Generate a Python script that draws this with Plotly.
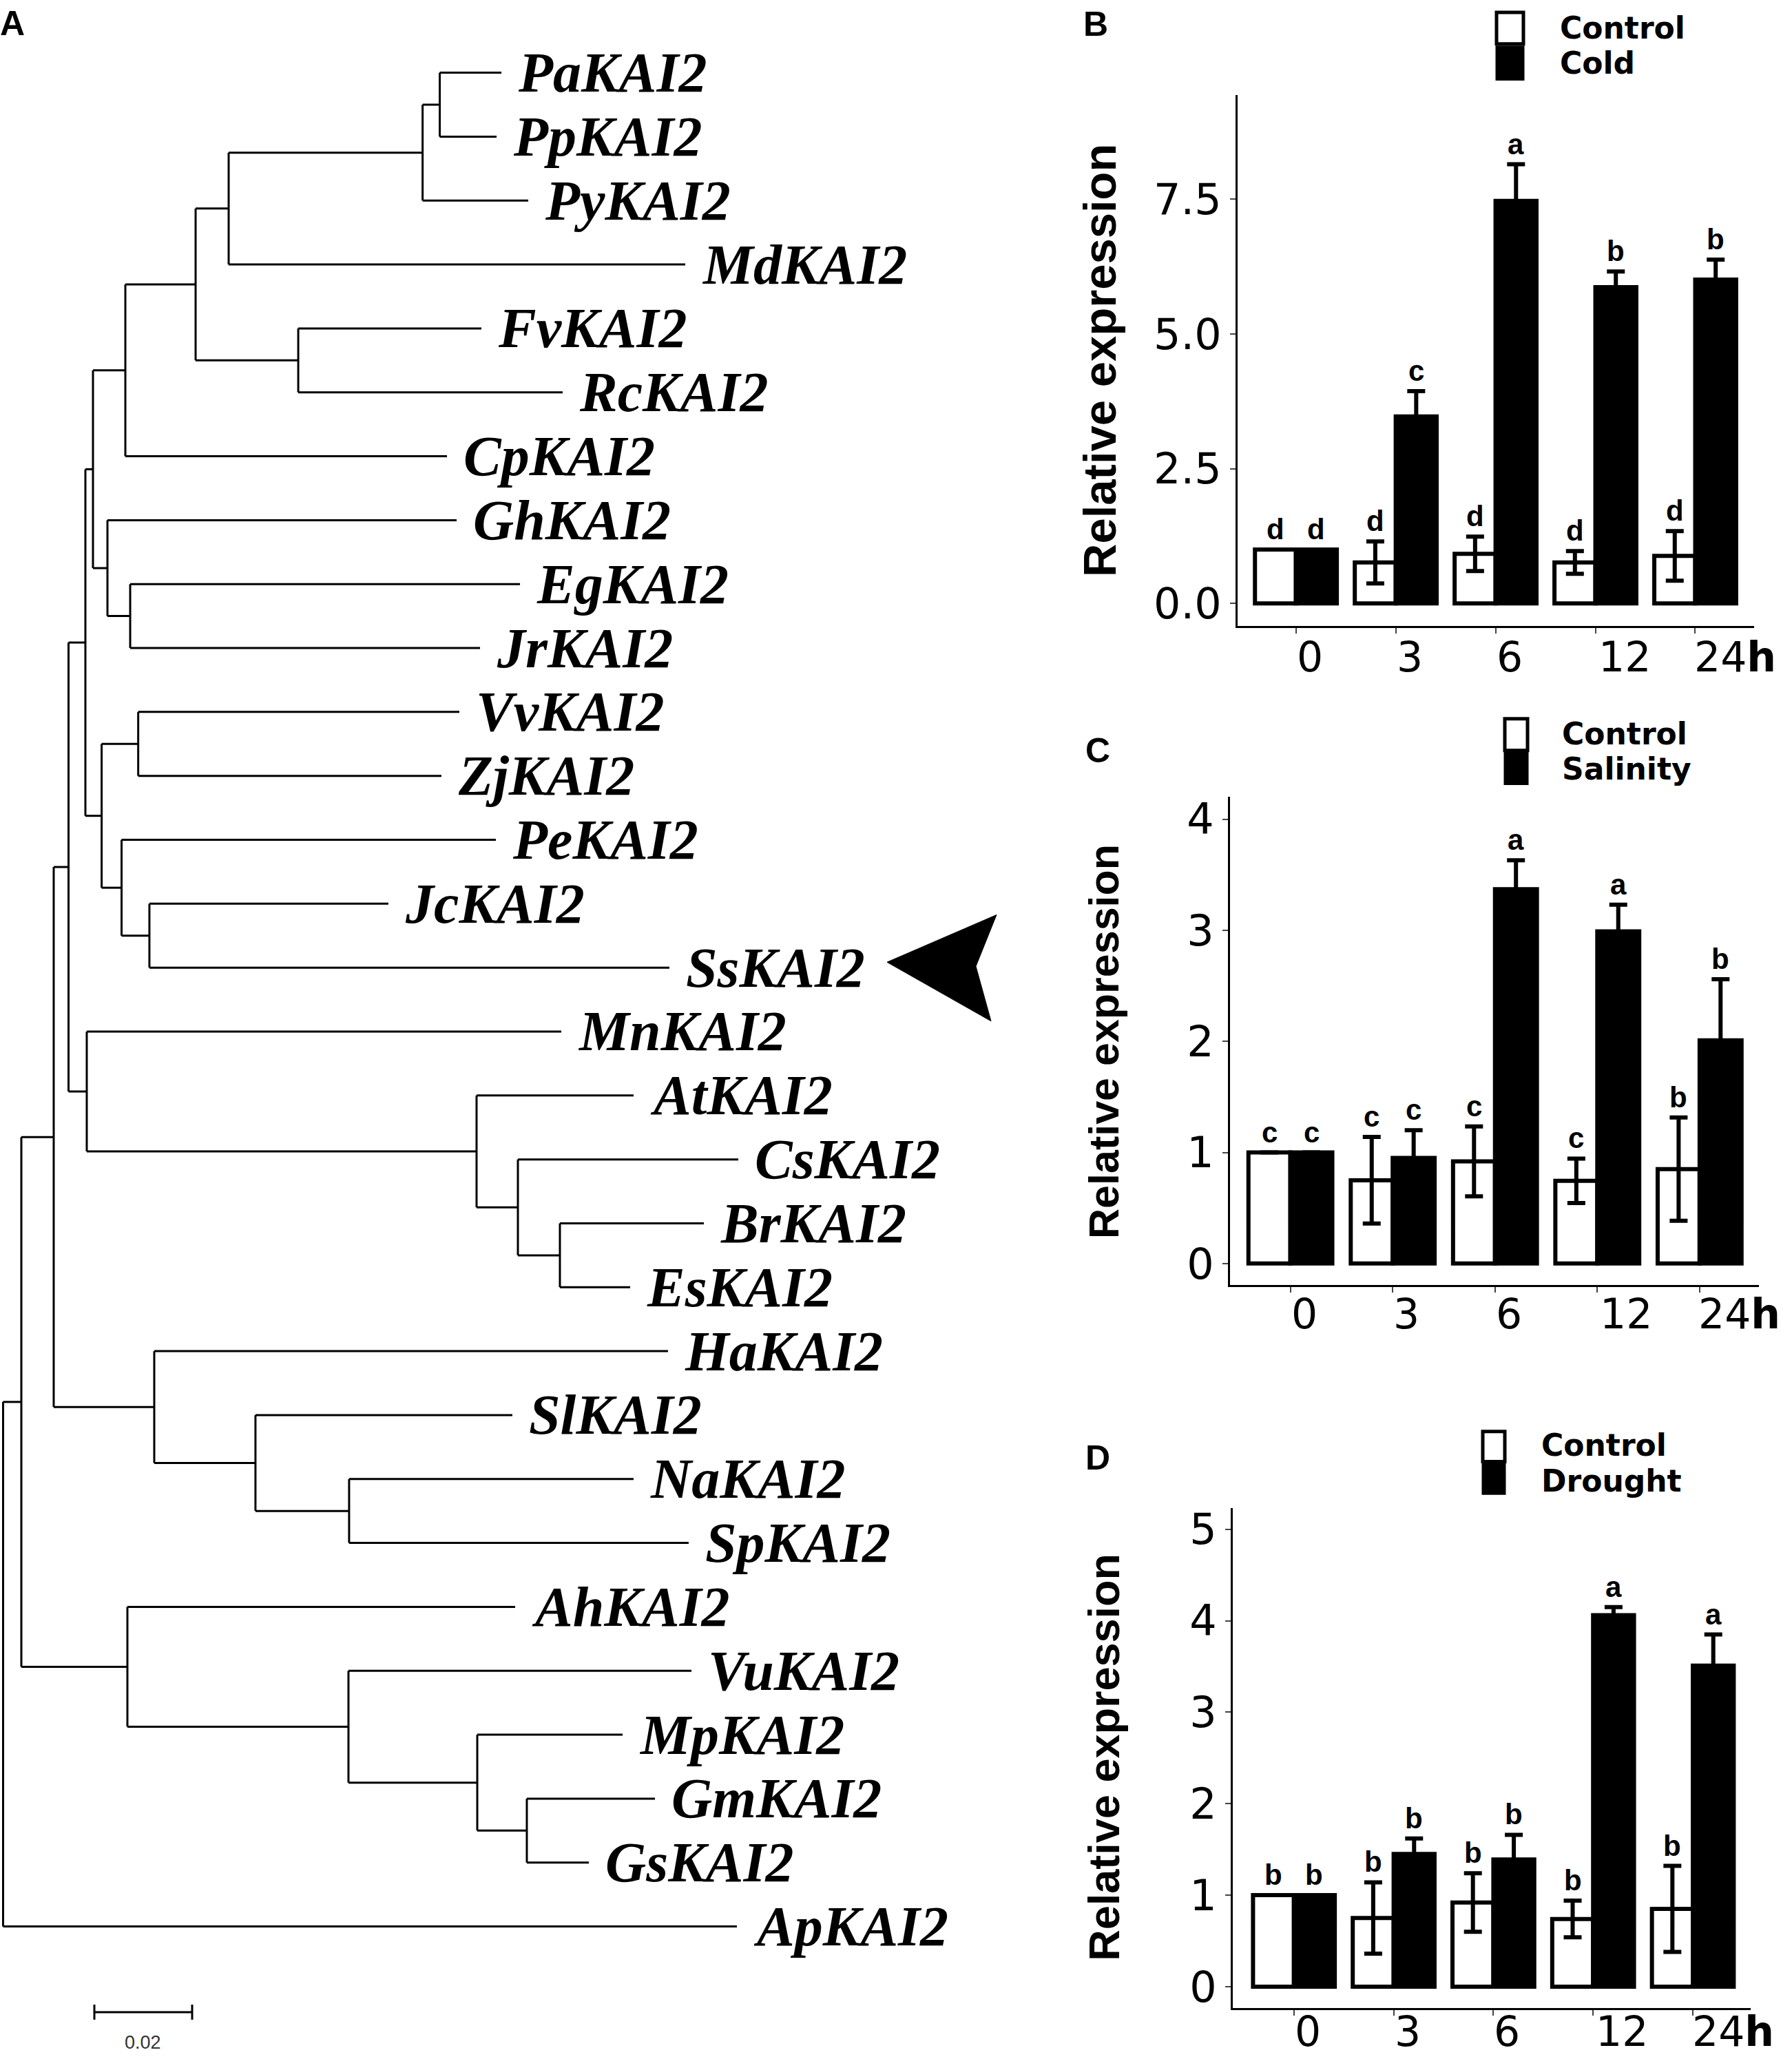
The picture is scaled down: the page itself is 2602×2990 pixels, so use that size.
import plotly.graph_objects as go
from collections import defaultdict

W, H = 2602, 2990

# ================= DATA: phylogenetic tree (panel A) =================
leaf_order = ["PaKAI2", "PpKAI2", "PyKAI2", "MdKAI2", "FvKAI2", "RcKAI2", "CpKAI2", "GhKAI2",
              "EgKAI2", "JrKAI2", "VvKAI2", "ZjKAI2", "PeKAI2", "JcKAI2", "SsKAI2", "MnKAI2",
              "AtKAI2", "CsKAI2", "BrKAI2", "EsKAI2", "HaKAI2", "SlKAI2", "NaKAI2", "SpKAI2",
              "AhKAI2", "VuKAI2", "MpKAI2", "GmKAI2", "GsKAI2", "ApKAI2"]

node_names = ["n1", "ApKAI2", "n2", "n3", "n4", "n5", "n6", "n7", "n8", "n9",
              "n10", "n11", "n12", "CpKAI2", "n13", "n14", "n15", "MdKAI2", "n16", "PyKAI2",
              "PaKAI2", "PpKAI2", "FvKAI2", "RcKAI2", "GhKAI2", "n17", "EgKAI2", "JrKAI2",
              "n18", "n19", "VvKAI2", "ZjKAI2", "PeKAI2", "n20", "JcKAI2", "SsKAI2",
              "MnKAI2", "n21", "AtKAI2", "n22", "CsKAI2", "n23", "BrKAI2", "EsKAI2",
              "HaKAI2", "n24", "SlKAI2", "n25", "NaKAI2", "SpKAI2",
              "AhKAI2", "n26", "VuKAI2", "n27", "MpKAI2", "n28", "GmKAI2", "GsKAI2"]
node_parents = ["root", "root", "n1", "n1", "n2", "n2", "n4", "n4", "n6", "n6",
                "n8", "n8", "n10", "n10", "n12", "n12", "n13", "n13", "n15", "n15",
                "n16", "n16", "n14", "n14", "n11", "n11", "n17", "n17",
                "n9", "n9", "n18", "n18", "n19", "n19", "n20", "n20",
                "n7", "n7", "n21", "n21", "n22", "n22", "n23", "n23",
                "n5", "n5", "n24", "n24", "n25", "n25",
                "n3", "n3", "n26", "n26", "n27", "n27", "n28", "n28"]
branch_lengths = [0.00373, 0.15007, 0.00662, 0.02169, 0.00303, 0.02056, 0.00345, 0.00373, 0.00155, 0.00332,
                  0.00662, 0.00296, 0.01437, 0.06577, 0.00676, 0.02099, 0.03966, 0.09338, 0.00351, 0.02161,
                  0.01261, 0.01162, 0.03746, 0.05408, 0.07141, 0.00465, 0.07972, 0.07155,
                  0.00748, 0.00408, 0.06568, 0.06201, 0.07654, 0.00569, 0.04887, 0.10634,
                  0.09704, 0.07972, 0.03211, 0.00845, 0.04507, 0.00859, 0.02944, 0.01437,
                  0.10507, 0.0207, 0.05254, 0.01915, 0.05817, 0.06944,
                  0.0793, 0.04521, 0.07014, 0.02634, 0.02972, 0.01014, 0.0262, 0.01268]
scale_bar_length = 0.02
scale_bar_label = "0.02"
highlighted_taxon = "SsKAI2"

# ================= DATA: expression bar charts (panels B-D) =================
timepoints = ["0", "3", "6", "12", "24<b>h</b>"]

cold_control = [1.0, 0.76, 0.92, 0.76, 0.88]
cold_control_err = [0.0, 0.39, 0.32, 0.21, 0.46]
cold_treated = [1.0, 3.47, 7.47, 5.87, 6.01]
cold_treated_err = [0.0, 0.47, 0.68, 0.29, 0.37]
cold_control_letters = ["d", "d", "d", "d", "d"]
cold_treated_letters = ["d", "c", "a", "b", "b"]

salt_control = [1.0, 0.75, 0.92, 0.745, 0.85]
salt_control_err = [0.0, 0.39, 0.315, 0.2, 0.465]
salt_treated = [1.0, 0.95, 3.37, 2.99, 2.01]
salt_treated_err = [0.0, 0.25, 0.26, 0.24, 0.55]
salt_control_letters = ["c", "c", "c", "c", "b"]
salt_treated_letters = ["c", "c", "a", "a", "b"]

drought_control = [1.0, 0.75, 0.92, 0.74, 0.85]
drought_control_err = [0.0, 0.39, 0.32, 0.2, 0.47]
drought_treated = [1.0, 1.45, 1.39, 4.06, 3.51]
drought_treated_err = [0.0, 0.17, 0.27, 0.09, 0.34]
drought_control_letters = ["b", "b", "b", "b", "b"]
drought_treated_letters = ["b", "b", "b", "a", "a"]

control_name = "Control"
treatment_names = ["Cold", "Salinity", "Drought"]
y_title = "Relative expression"
panel_letters = ["A", "B", "C", "D"]

# ================= STYLE =================
PX_PER_UNIT = 7100.0     # tree scale: pixels per substitution unit
ROOT_PX = 4.5
LEAF_TOP_PX = 100.0
LEAF_STEP_PX = 93.2
TREE_LINE_W = 3
LABEL_GAP_PX = 22
SCALE_X0 = 0.01866
SCALE_ROW = 30.34

BAR_W = 0.41
XLABEL_SHIFTS = [20, 20, 20, 42, 58]
TICK_FONT = dict(family="DejaVu Sans", size=62, color="black")
XTICK_FONT = dict(family="DejaVu Sans", size=60, color="black")
LEGEND_FONT = dict(family="DejaVu Sans", size=44, color="black", weight="bold")
LETTER_FONT = dict(family="Liberation Sans", size=42, color="black", weight="bold")
PANEL_FONT = dict(family="Liberation Sans", size=50, color="black", weight="bold")


def px_x(p):
    return p / W


def px_y(p):
    return 1 - p / H


fig = go.Figure()

# ---------------- tree layout ----------------
parent_of = dict(zip(node_names, node_parents))
blen = dict(zip(node_names, branch_lengths))
children = defaultdict(list)
for n, p in zip(node_names, node_parents):
    children[p].append(n)

depth_cache = {"root": 0.0}


def depth(n):
    if n not in depth_cache:
        depth_cache[n] = depth(parent_of[n]) + blen[n]
    return depth_cache[n]


ypos = {name: float(i) for i, name in enumerate(leaf_order)}


def yof(n):
    if n not in ypos:
        cy = [yof(c) for c in children[n]]
        ypos[n] = (min(cy) + max(cy)) / 2
    return ypos[n]


tx, ty = [], []
for n in node_names:
    p = parent_of[n]
    tx += [depth(p), depth(n), None]
    ty += [yof(n), yof(n), None]
for p, ch in children.items():
    cy = [yof(c) for c in ch]
    tx += [depth(p), depth(p), None]
    ty += [min(cy), max(cy), None]

fig.add_trace(go.Scatter(x=tx, y=ty, mode="lines", line=dict(color="black", width=TREE_LINE_W),
                         xaxis="x4", yaxis="y4", hoverinfo="skip", showlegend=False))

# scale bar
tick_h = 11 / LEAF_STEP_PX
sx = [SCALE_X0, SCALE_X0 + scale_bar_length, None,
      SCALE_X0, SCALE_X0, None,
      SCALE_X0 + scale_bar_length, SCALE_X0 + scale_bar_length]
sy = [SCALE_ROW, SCALE_ROW, None,
      SCALE_ROW - tick_h, SCALE_ROW + tick_h, None,
      SCALE_ROW - tick_h, SCALE_ROW + tick_h]
fig.add_trace(go.Scatter(x=sx, y=sy, mode="lines", line=dict(color="black", width=3),
                         xaxis="x4", yaxis="y4", hoverinfo="skip", showlegend=False))

annotations = []
for name in leaf_order:
    annotations.append(dict(x=depth(name), y=yof(name), xref="x4", yref="y4", text=name,
                            xanchor="left", yanchor="middle", xshift=LABEL_GAP_PX, showarrow=False,
                            font=dict(family="Liberation Serif", size=82, color="black",
                                      weight="bold", style="italic")))
annotations.append(dict(x=SCALE_X0 + scale_bar_length / 2, y=SCALE_ROW, xref="x4", yref="y4",
                        text=scale_bar_label, showarrow=False, yanchor="middle", yshift=-44,
                        font=dict(family="Liberation Sans", size=27, color="#333333")))

# arrowhead pointing at highlighted taxon
ss_px = LEAF_TOP_PX + leaf_order.index(highlighted_taxon) * LEAF_STEP_PX
arrow_pts = [(1288, ss_px - 8), (1447, ss_px - 77), (1417, ss_px - 2), (1439, ss_px + 78)]
path = "M " + " L ".join(f"{px_x(a):.5f},{px_y(b):.5f}" for a, b in arrow_pts) + " Z"
shapes = [dict(type="path", path=path, xref="paper", yref="paper",
               fillcolor="black", line=dict(color="black", width=1))]

# ---------------- bar panels ----------------
panels = [
    dict(ctrl=cold_control, ctrl_err=cold_control_err, trt=cold_treated, trt_err=cold_treated_err,
         ctrl_let=cold_control_letters, trt_let=cold_treated_letters, trt_name=treatment_names[0],
         xdom=(1797, 2547), ydom=(133, 907), xr=(-0.584, 4.59), yr=(-0.424, 9.43),
         dtick=2.5, fmt=".1f", title=(1597, 520), title_size=67, xlab_dy=-45,
         letter=(1591, 29),
         leg=dict(bx=(2173, 2212), wy=(12, 58), by=(62, 110), tx=2263, ty=(35, 86))),
    dict(ctrl=salt_control, ctrl_err=salt_control_err, trt=salt_treated, trt_err=salt_treated_err,
         ctrl_let=salt_control_letters, trt_let=salt_treated_letters, trt_name=treatment_names[1],
         xdom=(1786, 2554), ydom=(1156, 1867), xr=(-0.59, 4.58), yr=(-0.19, 4.2),
         dtick=1, fmt="d", title=(1603, 1513), title_size=61, xlab_dy=-42,
         letter=(1594, 1088),
         leg=dict(bx=(2185, 2218), wy=(1042, 1088), by=(1091, 1137), tx=2266, ty=(1064, 1115))),
    dict(ctrl=drought_control, ctrl_err=drought_control_err, trt=drought_treated,
         trt_err=drought_treated_err, ctrl_let=drought_control_letters,
         trt_let=drought_treated_letters, trt_name=treatment_names[2],
         xdom=(1790, 2542), ydom=(2193, 2922), xr=(-0.613, 4.58), yr=(-0.236, 5.23),
         dtick=1, fmt="d", title=(1603, 2556), title_size=63, xlab_dy=-34,
         letter=(1594, 2120),
         leg=dict(bx=(2153, 2185), wy=(2081, 2125), by=(2128, 2172), tx=2236, ty=(2101, 2153))),
]

layout_axes = {}
xpos = list(range(len(timepoints)))
for k, pn in enumerate(panels):
    sfx = "" if k == 0 else str(k + 1)
    xa, ya = "x" + sfx, "y" + sfx
    fig.add_trace(go.Bar(x=xpos, y=pn["ctrl"], width=BAR_W, offset=-BAR_W,
                         marker=dict(color="white", line=dict(color="black", width=6)),
                         error_y=dict(type="data", array=pn["ctrl_err"], color="black",
                                      thickness=6, width=13),
                         xaxis=xa, yaxis=ya, showlegend=False, name=control_name))
    fig.add_trace(go.Bar(x=xpos, y=pn["trt"], width=BAR_W, offset=0,
                         marker=dict(color="black", line=dict(color="black", width=6)),
                         error_y=dict(type="data", array=pn["trt_err"], color="black",
                                      thickness=6, width=13),
                         xaxis=xa, yaxis=ya, showlegend=False, name=pn["trt_name"]))
    layout_axes["xaxis" + sfx] = dict(
        domain=[px_x(pn["xdom"][0]), px_x(pn["xdom"][1])], range=list(pn["xr"]),
        anchor=ya, showline=True, linecolor="black", linewidth=3, showgrid=False, zeroline=False,
        ticks="outside", ticklen=8, tickwidth=2, tickcolor="#444444", tickvals=xpos,
        showticklabels=False, fixedrange=True)
    layout_axes["yaxis" + sfx] = dict(
        domain=[px_y(pn["ydom"][1]), px_y(pn["ydom"][0])], range=list(pn["yr"]),
        anchor=xa, showline=True, linecolor="black", linewidth=3, showgrid=False, zeroline=False,
        ticks="outside", ticklen=8, tickwidth=2, tickcolor="#444444", dtick=pn["dtick"],
        tick0=0, tickformat=pn["fmt"], tickfont=TICK_FONT, fixedrange=True)
    # x tick labels
    for i, lab in enumerate(timepoints):
        annotations.append(dict(x=i, y=0, xref=xa, yref=ya + " domain", text=lab,
                                showarrow=False, xanchor="center", yanchor="middle",
                                xshift=XLABEL_SHIFTS[i], yshift=pn["xlab_dy"], font=XTICK_FONT))
    # significance letters
    for i in xpos:
        annotations.append(dict(x=i - BAR_W / 2, y=pn["ctrl"][i] + pn["ctrl_err"][i], xref=xa,
                                yref=ya, text=pn["ctrl_let"][i], showarrow=False,
                                yanchor="bottom", yshift=4, font=LETTER_FONT))
        annotations.append(dict(x=i + BAR_W / 2, y=pn["trt"][i] + pn["trt_err"][i], xref=xa,
                                yref=ya, text=pn["trt_let"][i], showarrow=False,
                                yanchor="bottom", yshift=4, font=LETTER_FONT))
    # y title
    annotations.append(dict(x=px_x(pn["title"][0]), y=px_y(pn["title"][1]), xref="paper",
                            yref="paper", text=y_title, textangle=-90, showarrow=False,
                            xanchor="center", yanchor="middle",
                            font=dict(family="Liberation Sans", size=pn["title_size"],
                                      color="black", weight="bold")))
    # panel letter
    annotations.append(dict(x=px_x(pn["letter"][0]), y=px_y(pn["letter"][1]), xref="paper",
                            yref="paper", text=panel_letters[k + 1], showarrow=False,
                            xanchor="center", yanchor="middle", font=PANEL_FONT))
    # legend
    lg = pn["leg"]
    shapes.append(dict(type="rect", xref="paper", yref="paper",
                       x0=px_x(lg["bx"][0]), x1=px_x(lg["bx"][1]),
                       y0=px_y(lg["wy"][1]), y1=px_y(lg["wy"][0]),
                       fillcolor="white", line=dict(color="black", width=5)))
    shapes.append(dict(type="rect", xref="paper", yref="paper",
                       x0=px_x(lg["bx"][0]), x1=px_x(lg["bx"][1]),
                       y0=px_y(lg["by"][1]), y1=px_y(lg["by"][0]),
                       fillcolor="black", line=dict(color="black", width=3)))
    for txt, tyy in zip([control_name, pn["trt_name"]], lg["ty"]):
        annotations.append(dict(x=px_x(lg["tx"]), y=px_y(tyy), xref="paper", yref="paper",
                                text=txt, showarrow=False, xanchor="left", yanchor="middle",
                                font=LEGEND_FONT))

annotations.append(dict(x=px_x(18), y=px_y(28), xref="paper", yref="paper",
                        text=panel_letters[0], showarrow=False, xanchor="center",
                        yanchor="middle", font=PANEL_FONT))

layout_axes["xaxis4"] = dict(domain=[0, 1], range=[-ROOT_PX / PX_PER_UNIT, (W - ROOT_PX) / PX_PER_UNIT],
                             visible=False, anchor="y4", fixedrange=True)
layout_axes["yaxis4"] = dict(domain=[0, 1],
                             range=[(H - LEAF_TOP_PX) / LEAF_STEP_PX, -LEAF_TOP_PX / LEAF_STEP_PX],
                             visible=False, anchor="x4", fixedrange=True)

fig.update_layout(
    width=W, height=H, margin=dict(l=0, r=0, t=0, b=0), autosize=False,
    paper_bgcolor="white", plot_bgcolor="rgba(0,0,0,0)",
    font=dict(family="Liberation Sans", color="black"),
    barmode="overlay", showlegend=False,
    annotations=annotations, shapes=shapes,
    **layout_axes,
)

fig.write_html("out.html", config={"displayModeBar": False},
               post_script="document.body.style.margin='0';document.body.style.padding='0';")
